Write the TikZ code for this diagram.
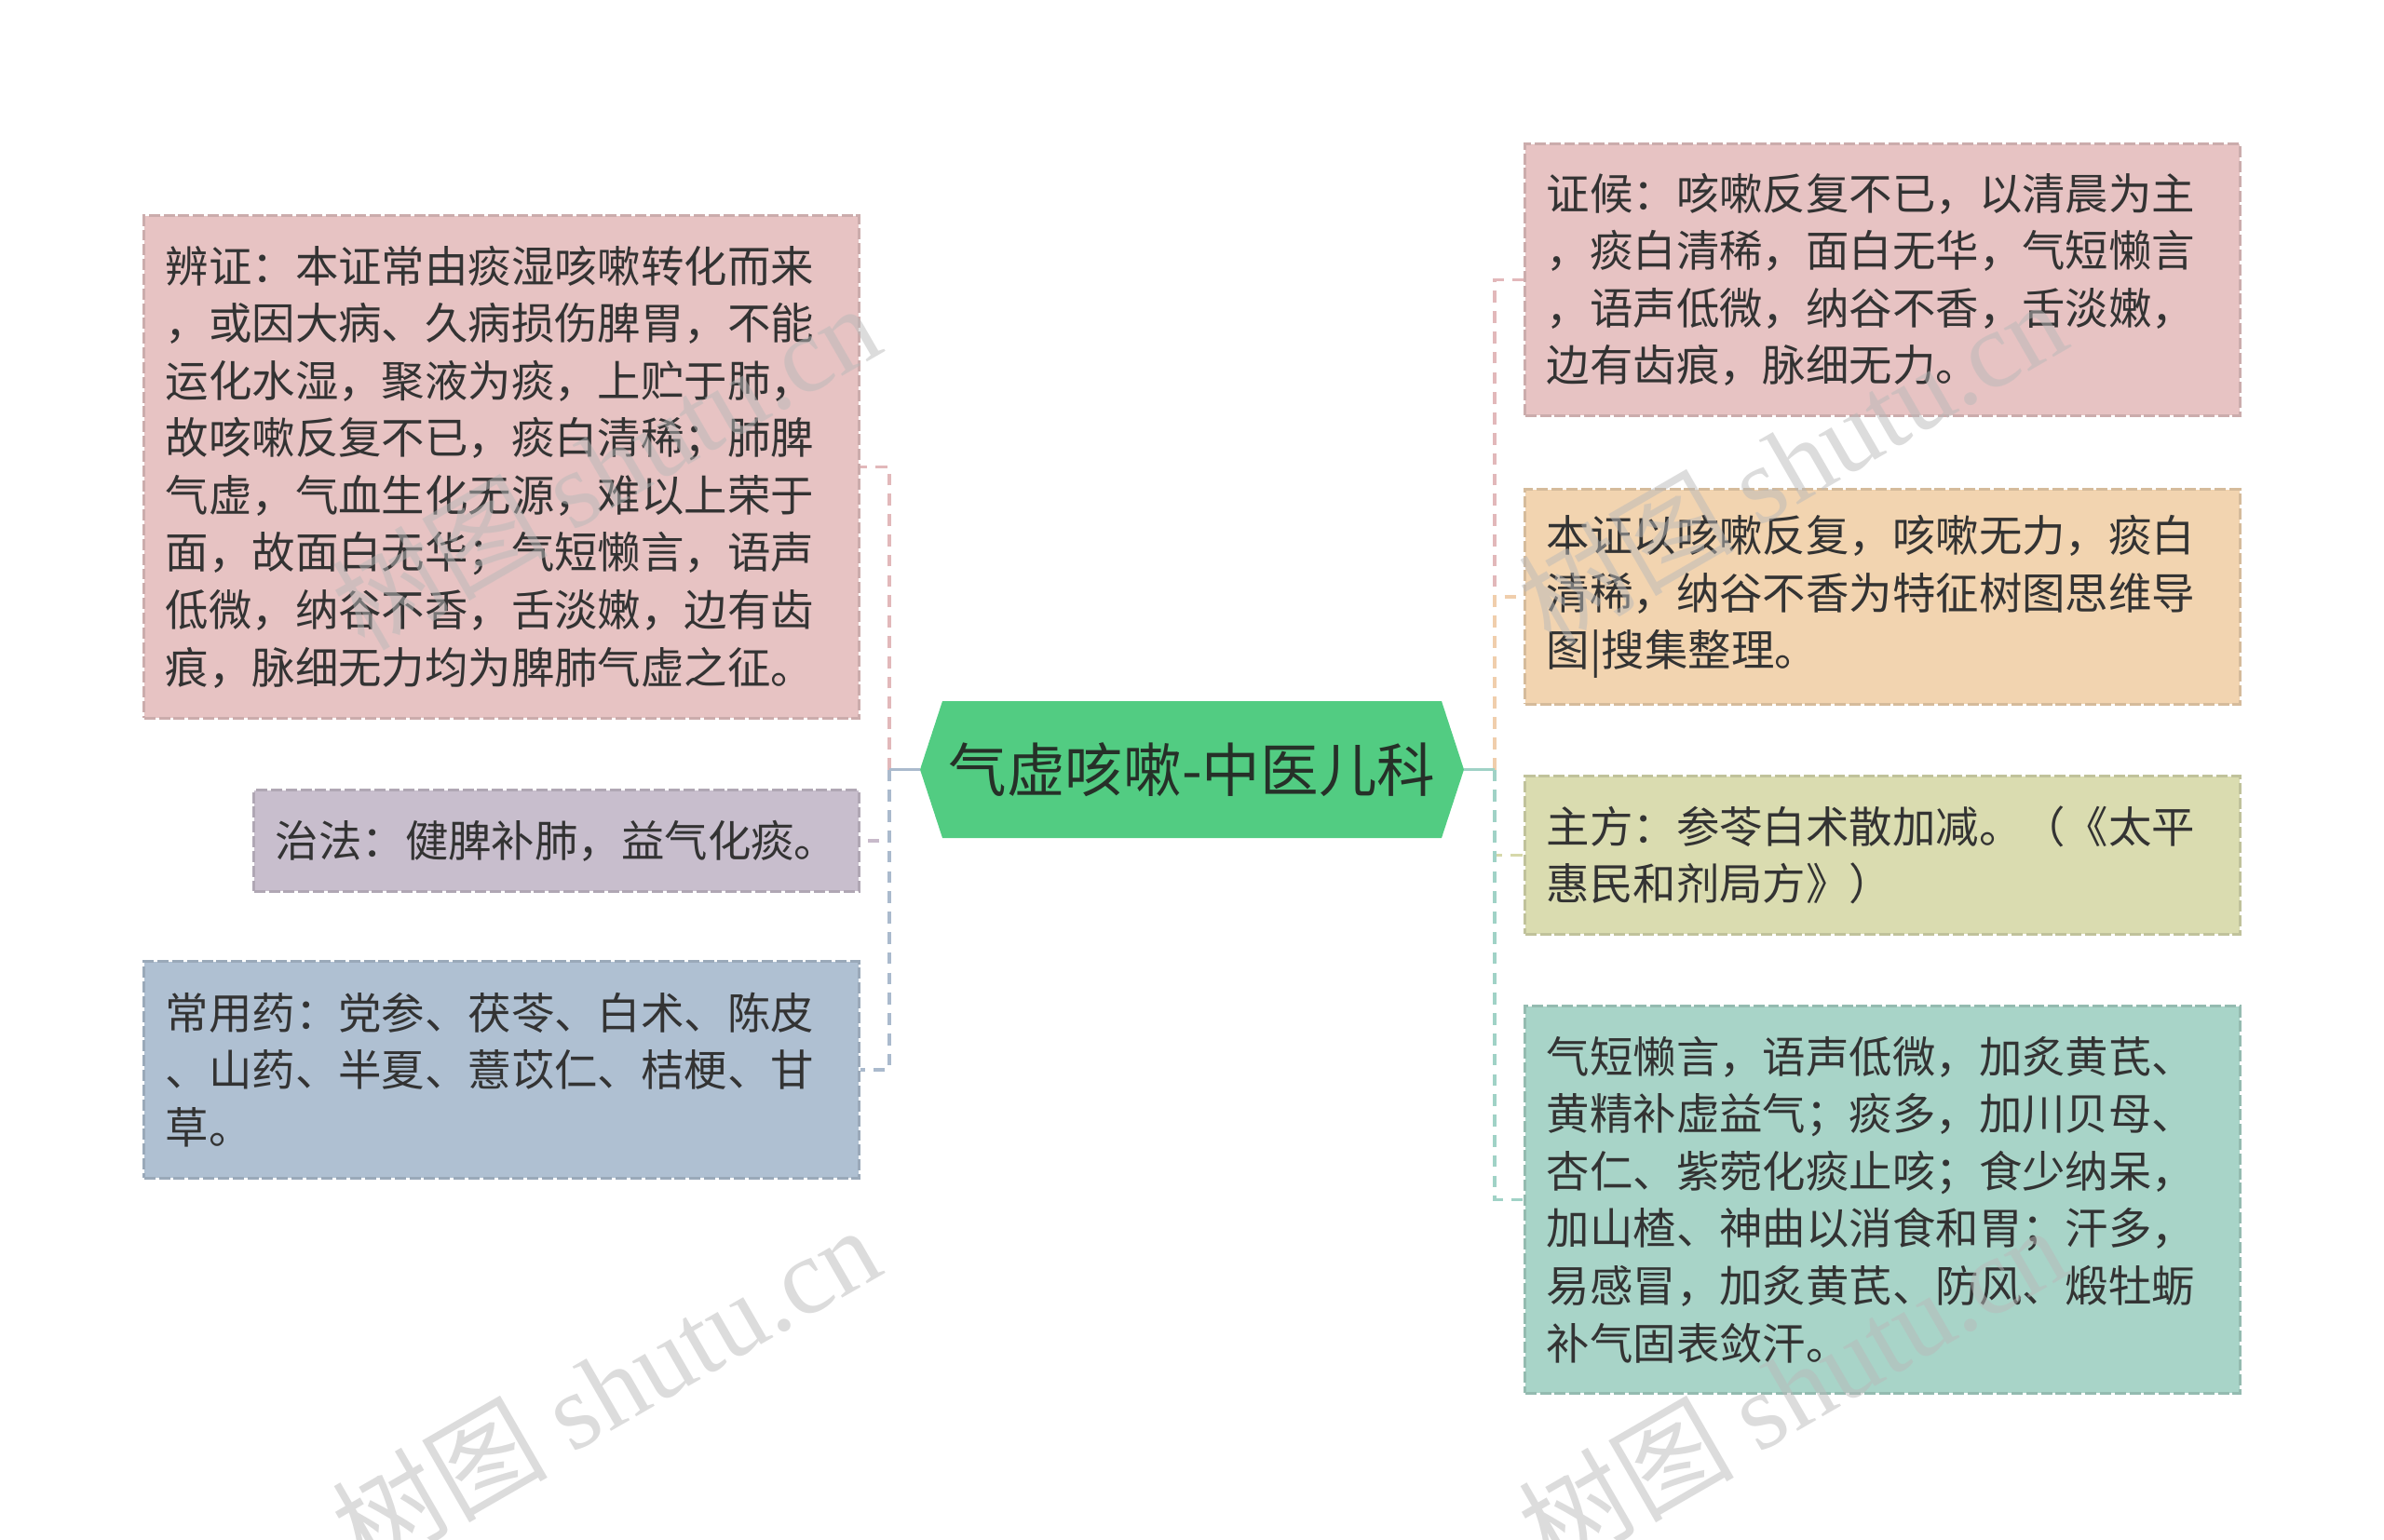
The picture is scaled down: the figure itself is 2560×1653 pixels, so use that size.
\documentclass[tikz,border=0pt]{standalone}
\usepackage{fontspec}
\setmainfont{Noto Sans CJK SC}
\newfontfamily\wmfont{Liberation Serif}
\usepackage{tikz}
\usetikzlibrary{calc,positioning}
\definecolor{txtgray}{RGB}{51,51,51}
\definecolor{roottxt}{RGB}{38,48,40}
\definecolor{rootgreen}{RGB}{82,204,130}
\definecolor{pinkbox}{RGB}{231,195,195}
\definecolor{purplebox}{RGB}{200,190,205}
\definecolor{bluebox}{RGB}{175,192,210}
\definecolor{orangebox}{RGB}{242,212,176}
\definecolor{yellowbox}{RGB}{218,220,176}
\definecolor{tealbox}{RGB}{168,212,200}
\definecolor{pinklink}{RGB}{226,184,186}
\definecolor{purplelink}{RGB}{200,186,202}
\definecolor{bluelink}{RGB}{170,186,205}
\definecolor{orangelink}{RGB}{240,206,172}
\definecolor{yellowlink}{RGB}{214,216,170}
\definecolor{teallink}{RGB}{160,210,198}
\definecolor{wmgray}{RGB}{185,185,185}

\begin{document}
\begin{tikzpicture}[x=0.01cm,y=-0.01cm,
  box/.style={draw=#1!88!black, fill=#1, line width=0.85pt, dash pattern=on 3.4pt off 1.1pt,
    text=txtgray, font=\fontsize{13.2pt}{17.5pt}\selectfont, align=left,
    inner xsep=0.23cm, inner ysep=0pt, text width=7.21cm},
  link/.style={draw=#1, line width=1.1pt, dash pattern=on 3.6pt off 2.6pt},
  stem/.style={draw=#1, line width=1.1pt},
  roottext/.style={text=roottxt, font=\fontsize{17.8pt}{20pt}\selectfont, inner sep=0pt},
  watermark/.style={rotate=30, text=wmgray, text opacity=0.5, font=\fontsize{33pt}{33pt}\selectfont}]
\useasboundingbox (0,0) rectangle (2560,1653);

% centre
\coordinate (rootc) at (1280,826.5);
\fill[rootgreen] ($(rootc)+(-268,-73.5)$) -- ($(rootc)+(268,-73.5)$) -- ($(rootc)+(292,0)$)
  -- ($(rootc)+(268,73.5)$) -- ($(rootc)+(-268,73.5)$) -- ($(rootc)+(-292,0)$) -- cycle;
\node[roottext] (root) at (rootc) {气虚咳嗽-中医儿科};
\coordinate (rootW) at ($(rootc)+(-292,0)$);
\coordinate (rootE) at ($(rootc)+(292,0)$);
\coordinate (spineL) at (955,826.5);
\coordinate (spineR) at (1605,826.5);

% left
\node[box=pinkbox, minimum height=5.39cm] (bianzheng) at (538.5,501.5) {辨证：本证常由痰湿咳嗽转化而来\\，或因大病、久病损伤脾胃，不能\\运化水湿，聚液为痰，上贮于肺，\\故咳嗽反复不已，痰白清稀；肺脾\\气虚，气血生化无源，难以上荣于\\面，故面白无华；气短懒言，语声\\低微，纳谷不香，舌淡嫩，边有齿\\痕，脉细无力均为脾肺气虚之征。};
\node[box=purplebox, text width=6.03cm, minimum height=1.08cm] (zhifa) at (597.5,903) {治法：健脾补肺，益气化痰。};
\node[box=bluebox, minimum height=2.32cm] (changyong) at (538.5,1149) {常用药：党参、茯苓、白术、陈皮\\、山药、半夏、薏苡仁、桔梗、甘\\草。};

% right
\node[box=pinkbox, minimum height=2.91cm] (zhenghou) at (2021.5,300.5) {证候：咳嗽反复不已，以清晨为主\\，痰白清稀，面白无华，气短懒言\\，语声低微，纳谷不香，舌淡嫩，\\边有齿痕，脉细无力。};
\node[box=orangebox, minimum height=2.30cm] (tezheng) at (2021.5,641) {本证以咳嗽反复，咳嗽无力，痰白\\清稀，纳谷不香为特征树图思维导\\图|搜集整理。};
\node[box=yellowbox, minimum height=1.69cm] (zhufang) at (2021.5,918.5) {主方：参苓白术散加减。（《太平\\惠民和剂局方》）};
\node[box=tealbox, minimum height=4.15cm] (jiajian) at (2021.5,1288.5) {气短懒言，语声低微，加炙黄芪、\\黄精补虚益气；痰多，加川贝母、\\杏仁、紫菀化痰止咳；食少纳呆，\\加山楂、神曲以消食和胃；汗多，\\易感冒，加炙黄芪、防风、煅牡蛎\\补气固表敛汗。};

% links
\draw[link=pinklink] (spineL) |- (bianzheng.east);
\draw[link=purplelink] (spineL) |- (zhifa.east);
\draw[link=bluelink] (spineL) |- (changyong.east);
\draw[stem=bluelink] (rootW) -- (spineL);
\draw[link=pinklink] (spineR) |- (zhenghou.west);
\draw[link=orangelink] (spineR) |- (tezheng.west);
\draw[link=yellowlink] (spineR) |- (zhufang.west);
\draw[link=teallink] (spineR) |- (jiajian.west);
\draw[stem=teallink] (rootE) -- (spineR);

% watermarks
\foreach \wx/\wy [count=\i] in {650/500, 650/1490, 1924/495, 1924/1490}
  \node[watermark] (wm\i) at (\wx,\wy) {树图 {\wmfont shutu.cn}};
\end{tikzpicture}
\end{document}
